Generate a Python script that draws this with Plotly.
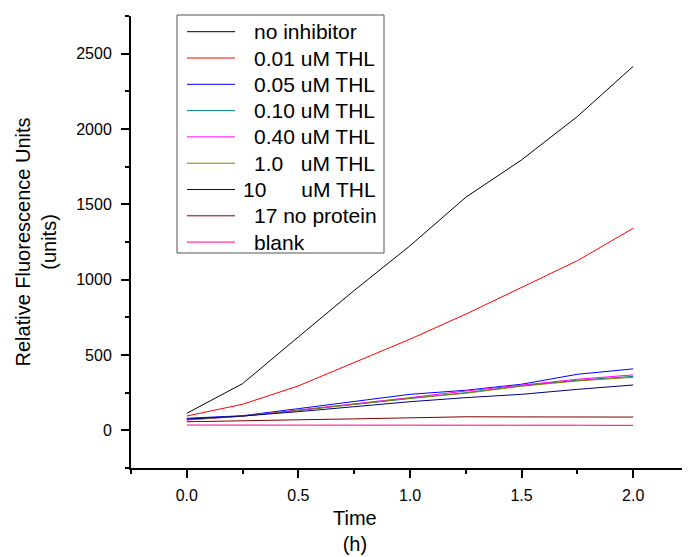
import plotly.graph_objects as go

# time points (h)
TIME_H = [0.0, 0.25, 0.5, 0.75, 1.0, 1.25, 1.5, 1.75, 2.0]

# relative fluorescence units
NO_INHIBITOR = [113, 310, 620, 928, 1225, 1547, 1795, 2083, 2416]
THL_001 = [95, 173, 295, 450, 605, 771, 948, 1126, 1341]
THL_005 = [80, 97, 144, 190, 239, 266, 306, 372, 408]
THL_010 = [72, 95, 133, 173, 215, 250, 296, 332, 358]
THL_040 = [68, 94, 135, 175, 217, 261, 299, 339, 368]
THL_1 = [70, 94, 132, 171, 213, 246, 293, 328, 352]
THL_10 = [75, 95, 124, 157, 190, 217, 239, 272, 301]
NO_PROTEIN = [57, 65, 70, 76, 84, 90, 89, 89, 88]
BLANK = [35, 34, 34, 34, 34, 34, 34, 34, 33]

NB = "\u00a0"
SERIES = [
    ("no inhibitor", NO_INHIBITOR, "#000000"),
    ("0.01 uM THL", THL_001, "#ff0000"),
    ("0.05 uM THL", THL_005, "#0000ff"),
    ("0.10 uM THL", THL_010, "#008080"),
    ("0.40 uM THL", THL_040, "#ff00ff"),
    (f"1.0{NB * 3}uM THL", THL_1, "#808000"),
    (f"10{NB * 6}uM THL", THL_10, "#000080"),
    ("17 no protein", NO_PROTEIN, "#800000"),
    ("blank", BLANK, "#ff0080"),
]

FONT = "Arial, 'Liberation Sans', sans-serif"

# plot area in figure pixels (the page body adds an 8px offset)
PLOT_L, PLOT_T, PLOT_W, PLOT_H = 123, 8, 558, 452


def px_x(fx):
    return (fx - PLOT_L) / PLOT_W


def px_y(fy):
    return (PLOT_T + PLOT_H - fy) / PLOT_H


fig = go.Figure()
for name, values, color in SERIES:
    fig.add_trace(go.Scatter(
        x=TIME_H, y=values, name=name, mode="lines",
        line=dict(color=color, width=1), showlegend=False,
    ))

axis_common = dict(
    showline=True, linecolor="black", linewidth=2,
    ticks="outside", ticklen=8, tickwidth=1.5, tickcolor="black",
    showgrid=False, zeroline=False, mirror=False,
    tickfont=dict(size=16, color="black", family=FONT),
)

fig.update_xaxes(
    range=[-0.25, 2.25], tick0=0, dtick=0.5, tickformat=".1f",
    minor=dict(dtick=0.25, tick0=0, ticks="outside", ticklen=4, tickwidth=1.5, tickcolor="black"),
    ticklabelstandoff=4,
    **axis_common,
)
fig.update_yaxes(
    range=[-250, 2750], tick0=0, dtick=500,
    minor=dict(dtick=250, tick0=0, ticks="outside", ticklen=4, tickwidth=1.5, tickcolor="black"),
    ticklabelstandoff=6,
    **axis_common,
)

fig.add_annotation(
    text="Time<br>(h)", xref="paper", yref="paper", x=0.401, y=-0.139,
    xanchor="center", yanchor="middle", showarrow=False,
    font=dict(size=20, color="black", family=FONT),
)
fig.add_annotation(
    text="Relative Fluorescence Units<br>(units)", xref="paper", yref="paper",
    x=-0.1694, y=0.5, xanchor="center", yanchor="middle", textangle=-90,
    showarrow=False, font=dict(size=20, color="black", family=FONT),
)

# Origin-style legend box, drawn by hand
fig.add_shape(
    type="rect", xref="paper", yref="paper",
    x0=px_x(169), x1=px_x(376), y0=px_y(245), y1=px_y(7),
    line=dict(color="#555555", width=1), fillcolor="white", layer="above",
)
for i, (name, _, color) in enumerate(SERIES):
    row_y = px_y(23.7 + 26.3 * i)
    fig.add_shape(
        type="line", xref="paper", yref="paper",
        x0=px_x(179), x1=px_x(227), y0=row_y, y1=row_y,
        line=dict(color=color, width=1), layer="above",
    )
    text_x = px_x(233) if name.startswith("10" + NB) else px_x(244)
    fig.add_annotation(
        text=name, xref="paper", yref="paper", x=text_x, y=row_y,
        xanchor="left", yanchor="middle", showarrow=False,
        font=dict(size=21, color="black", family=FONT),
    )

fig.update_layout(
    width=690, height=557,
    paper_bgcolor="white", plot_bgcolor="white",
    font=dict(family=FONT, size=16, color="black"),
    margin=dict(l=PLOT_L, r=690 - PLOT_L - PLOT_W, t=PLOT_T, b=557 - PLOT_T - PLOT_H),
    showlegend=False,
)

fig.write_html("out.html")
